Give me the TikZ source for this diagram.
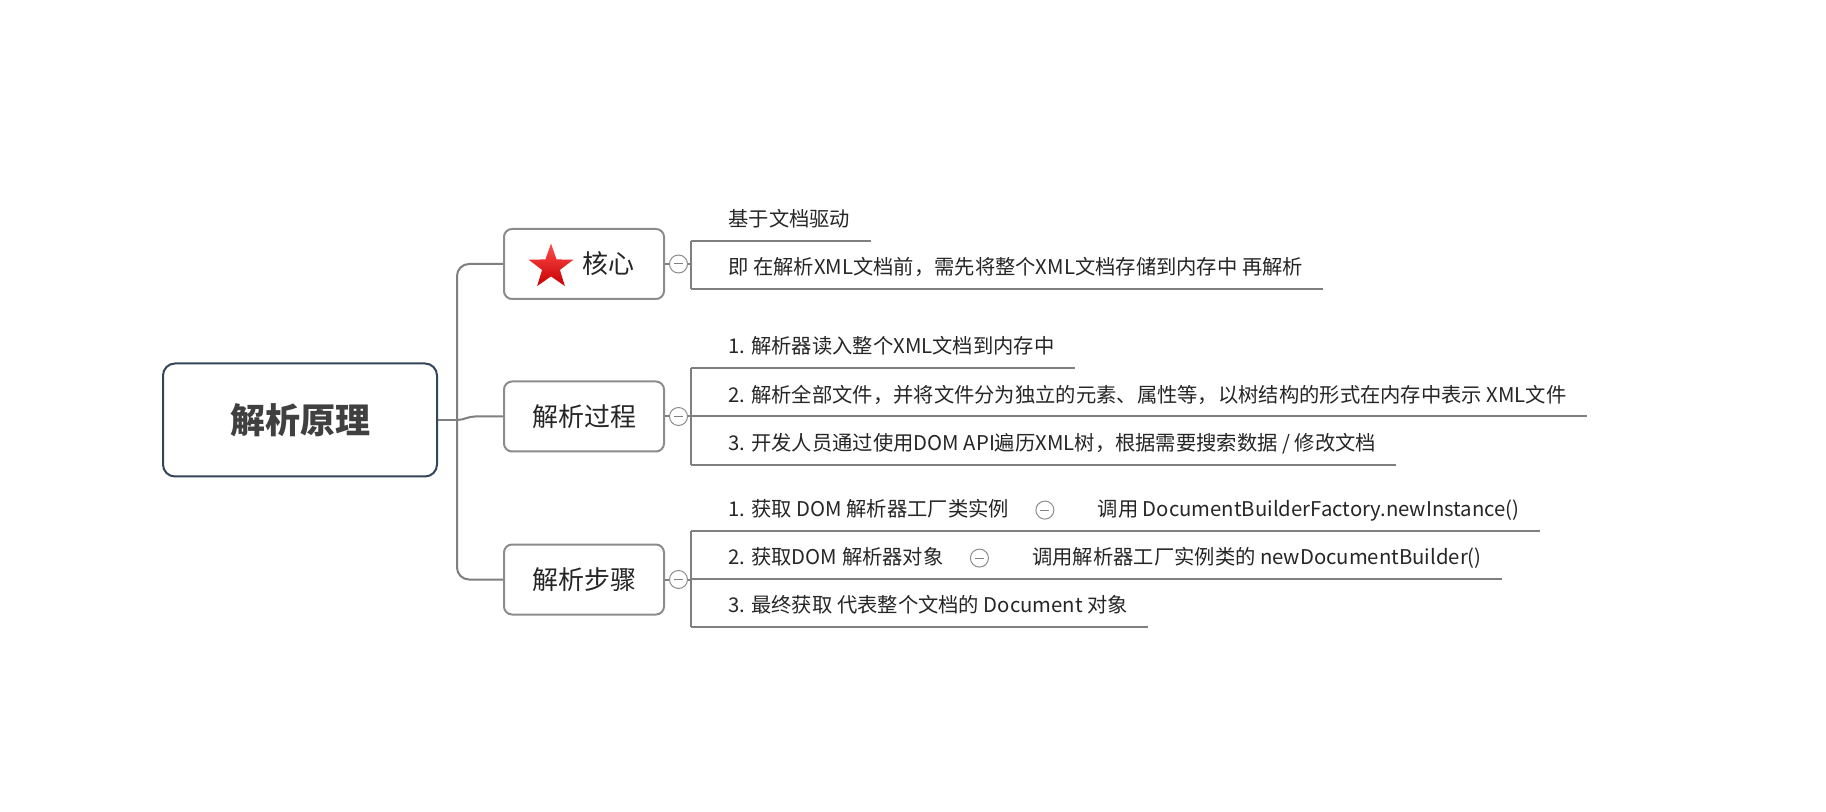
\documentclass[tikz,border=0pt]{standalone}
\usepackage{fontspec}
\newfontfamily\cjk{Noto Sans CJK SC}
\usepackage{tikz}
\usetikzlibrary{positioning}
\usetikzlibrary{shapes.geometric}
\definecolor{linkgray}{HTML}{7F7F7F}
\definecolor{rootblue}{HTML}{34465C}
\definecolor{textdark}{HTML}{262626}
\newcommand{\leafsize}{\fontsize{10.15pt}{12pt}\selectfont}

\tikzset{
  link/.style={draw=linkgray, line width=1pt},
  rootbox/.style={draw=rootblue, line width=1pt, rounded corners=6pt, fill=white,
    minimum width=137pt, minimum height=56.5pt, inner sep=0pt,
    font=\cjk\fontsize{17.5pt}{20pt}\selectfont\bfseries, text=black!75},
  topic/.style={draw=black!45, line width=1pt, rounded corners=4pt, fill=white,
    minimum width=80pt, minimum height=35pt, inner sep=0pt,
    font=\cjk\fontsize{13pt}{15pt}\selectfont, text=textdark},
  fold/.style={circle, draw=black!45, line width=0.5pt, fill=white,
    minimum size=9pt, inner sep=0pt,
    path picture={\draw[black!50, line width=0.5pt]
      ([xshift=-2.2pt]path picture bounding box.center) --
      ([xshift=2.2pt]path picture bounding box.center);}},
  leaf/.style={anchor=south west, inner xsep=10pt, inner ysep=5.5pt,
    text height=8pt, text depth=1.5pt, font=\cjk\leafsize, text=textdark},
}

\begin{document}
\begin{tikzpicture}[x=0.5pt, y=-0.5pt]
    \fill[white] (0,0) rectangle (1826,812);
    \useasboundingbox (0,0) rectangle (1826,812);
    % main topic and branches
    \node[rootbox] (root) at (300,420) {解析原理};
    \node[topic] (core) at (584,264) {\hspace*{24pt}核心};
    \node[star, star points=5, star point ratio=2.5, minimum size=23.5pt,
      inner sep=0pt, top color=red!70!white, bottom color=red!78!black]
      (corestar) at (551,267) {};
    \node[topic] (proc) at (584,416.5) {解析过程};
    \node[topic] (step) at (584,579.5) {解析步骤};
    \coordinate (trunk) at (457,420);
    \draw[link] (root.east) -- (trunk);
    \draw[link, rounded corners=6pt] (trunk) |- (core.west);
    \draw[link, rounded corners=6pt] (trunk) |- (step.west);
    \draw[link] (trunk) .. controls +(7,0) and +(-7,0) .. ([xshift=-14pt]proc.west)
      -- (proc.west);

    % core
    \node[fold, right=2pt of core] (corefold) {};
    \coordinate[right=1.5pt of corefold] (corebr);
    \node[leaf] (core1) at (708,241) {基于文档驱动};
    \node[leaf] (core2) at (708,289) {即 在解析XML文档前，需先将整个XML文档存储到内存中 再解析};
    \draw[link] (core) -- (corefold);
    \draw[link] (corefold) -- (corebr);
    \draw[link] (corebr |- core1.south) -- (corebr |- core2.south);
    \foreach \n in {core1, core2}
      \draw[link] (corebr |- \n.south) -- (\n.south east);

    % process
    \node[fold, right=2pt of proc] (procfold) {};
    \coordinate[right=1.5pt of procfold] (procbr);
    \node[leaf] (proc1) at (708,368) {1. 解析器读入整个XML文档到内存中};
    \node[leaf] (proc2) at (708,416.5) {2. 解析全部文件，并将文件分为独立的元素、属性等，以树结构的形式在内存中表示 XML文件};
    \node[leaf] (proc3) at (708,465) {3. 开发人员通过使用DOM API遍历XML树，根据需要搜索数据 / 修改文档};
    \draw[link] (proc) -- (procfold);
    \draw[link] (procfold) -- (procbr);
    \draw[link] (procbr |- proc1.south) -- (procbr |- proc3.south);
    \foreach \n in {proc1, proc2, proc3}
      \draw[link] (procbr |- \n.south) -- (\n.south east);

    % steps
    \node[fold, right=2pt of step] (stepfold) {};
    \coordinate[right=1.5pt of stepfold] (stepbr);
    \node[leaf] (step1) at (708,531) {1. 获取 DOM 解析器工厂类实例};
    \node[fold, right=3pt of step1.east] (step1fold) {};
    \node[leaf] (step1sub) at ([xshift=11.5pt]step1fold.east |- step1.south)
      {调用 DocumentBuilderFactory.newInstance()};
    \node[leaf] (step2) at (708,579) {2. 获取DOM 解析器对象};
    \node[fold, right=3pt of step2.east] (step2fold) {};
    \node[leaf] (step2sub) at ([xshift=11.5pt]step2fold.east |- step2.south)
      {调用解析器工厂实例类的 newDocumentBuilder()};
    \node[leaf] (step3) at (708,627) {3. 最终获取 代表整个文档的 Document 对象};
    \draw[link] (step) -- (stepfold);
    \draw[link] (stepfold) -- (stepbr);
    \draw[link] (stepbr |- step1.south) -- (stepbr |- step3.south);
    \foreach \n in {step1sub, step2sub, step3}
      \draw[link] (stepbr |- \n.south) -- (\n.south east);
\end{tikzpicture}
\end{document}
